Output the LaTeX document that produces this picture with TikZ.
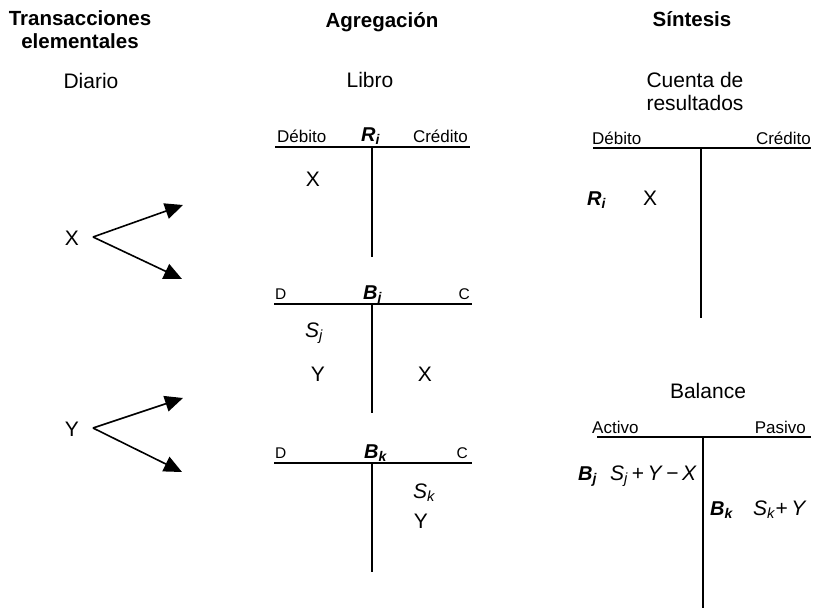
\documentclass[tikz,border=0pt]{standalone}
\usepackage{fontspec}
\setmainfont{Liberation Sans}
\usetikzlibrary{arrows.meta}
\newcommand{\bisub}[2]{\textbf{\textit{#1}\textsubscript{\textit{#2}}}}
\newcommand{\itsub}[2]{\textit{#1}\textsubscript{\textit{#2}}}
\begin{document}
\begin{tikzpicture}[x=1pt,y=-1pt,
 head/.style={font=\fontsize{20.5}{24}\selectfont\bfseries, inner sep=0, anchor=base},
 txt/.style={font=\fontsize{21}{24}\selectfont, inner sep=0, anchor=base},
 lab/.style={font=\fontsize{17}{20}\selectfont, inner sep=0},
 dc/.style={font=\fontsize{15.5}{18}\selectfont, inner sep=0},
 acct/.style={font=\fontsize{20}{22}\selectfont, inner sep=0, anchor=base west},
 ent/.style={font=\fontsize{21}{24}\selectfont, inner sep=0},
 tline/.style={line width=1.8pt},
 arr/.style={line width=1.6pt, -{Triangle[length=18pt,width=16pt]}}]
\useasboundingbox (0,0) rectangle (815,611);
% headings
\node[head] (h1a) at (80,25) {Transacciones};
\node[head] (h1b) at (80,48) {elementales};
\node[head] (h2) at (382,27) {Agregación};
\node[head] (h3) at (692,26) {Síntesis};
\node[txt] (diario) at (91,88) {Diario};
\node[txt] (libro) at (370,87) {Libro};
\node[txt] (cuenta1) at (695,87) {Cuenta de};
\node[txt] (cuenta2) at (695,110) {resultados};
% journal arrows
\node[ent] (X) at (72,238) {X};
\node[ent] (Y) at (72,429) {Y};
\coordinate (xs) at (93,237);
\coordinate (xa) at (183,205);
\coordinate (xb) at (182,279);
\coordinate (ys) at (93,428);
\coordinate (ya) at (183,398);
\coordinate (yb) at (182,472);
\draw[arr] (xs) -- (xa);
\draw[arr] (xs) -- (xb);
\draw[arr] (ys) -- (ya);
\draw[arr] (ys) -- (yb);
% ledger R_i
\draw[tline] (275,147) -- (470,147);
\draw[tline] (372,147) -- (372,257);
\node[lab, anchor=base west] (rdeb) at (277,142) {Débito};
\node[lab, anchor=base east] (rcred) at (468,142) {Crédito};
\node[acct] (ri) at (361,141) {\bisub{R}{i}};
\node[ent] (rx) at (313,179) {X};
% ledger B_j
\draw[tline] (274,304) -- (372,304);
\draw[line width=2.4pt] (372,304) -- (472,304);
\draw[tline] (372,304) -- (372,413);
\node[dc, anchor=base west] (jd) at (275,299) {D};
\node[dc, anchor=base east] (jc) at (470,299) {C};
\node[acct] (bj) at (363,299) {\bisub{B}{j}};
\node[ent, anchor=base west] (sj) at (305,337) {\itsub{S}{j}};
\node[ent, anchor=base] (jy) at (318,381) {Y};
\node[ent, anchor=base] (jx) at (425,381) {X};
% ledger B_k
\draw[tline] (274,463) -- (472,463);
\draw[tline] (372,463) -- (372,572);
\node[dc, anchor=base west] (kd) at (275,458) {D};
\node[dc, anchor=base east] (kc) at (468,458) {C};
\node[acct] (bk) at (364,458) {\bisub{B}{k}};
\node[ent, anchor=base west] (sk) at (413,498) {\itsub{S}{k}};
\node[ent, anchor=base] (ky) at (421,528) {Y};
% income statement
\draw[tline] (593,148) -- (811,148);
\draw[tline] (701,148) -- (701,318);
\node[lab, anchor=base west] (cdeb) at (592,144) {Débito};
\node[lab, anchor=base east] (ccred) at (811,144) {Crédito};
\node[acct] (cri) at (587,205) {\bisub{R}{i}};
\node[ent, anchor=base] (cx) at (650,205) {X};
% balance
\node[txt] (bal) at (708,398) {Balance};
\draw[tline] (597,437) -- (811,437);
\draw[tline] (703,437) -- (703,608);
\node[lab, anchor=base west] (act) at (592,433) {Activo};
\node[lab, anchor=base east] (pas) at (806,433) {Pasivo};
\node[acct] (bbj) at (578,480) {\bisub{B}{j}};
\node[ent, anchor=base west] (bsj) at (610,480) {\itsub{S}{j}\,+\,\textit{Y}\,−\,\textit{X}};
\node[acct] (bbk) at (710,515) {\bisub{B}{k}};
\node[ent, anchor=base west] (bsk) at (753,515) {\itsub{S}{k}+\,\textit{Y}};
\end{tikzpicture}
\end{document}
